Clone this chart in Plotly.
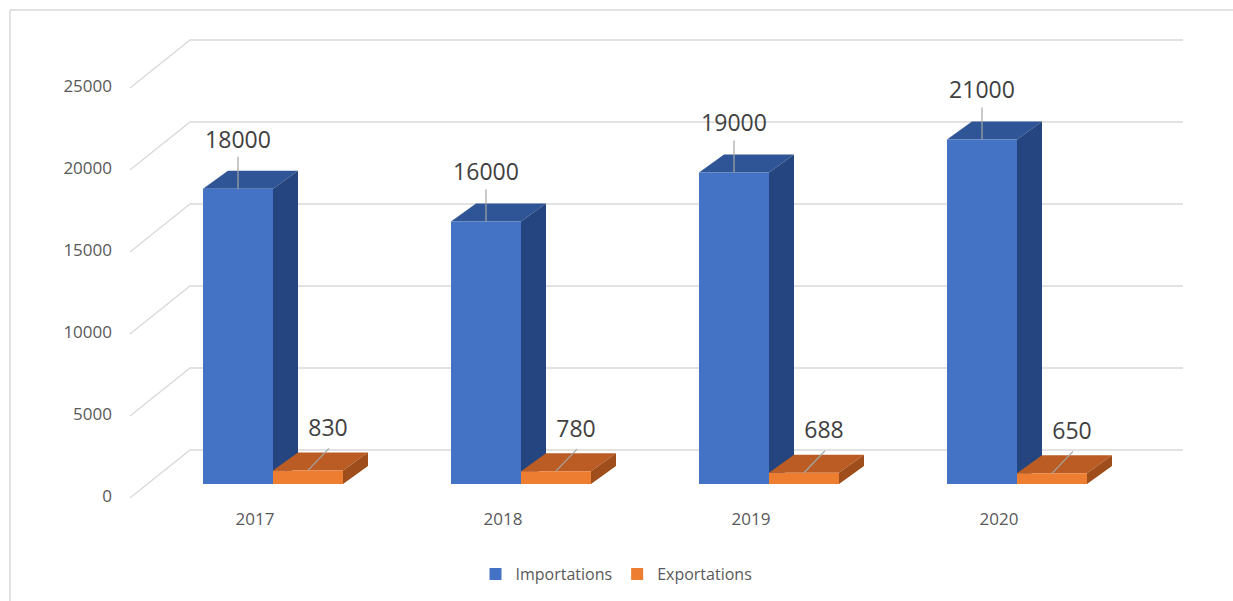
import plotly.graph_objects as go

# ---------------- data ----------------
years = ["2017", "2018", "2019", "2020"]
importations = [18000, 16000, 19000, 21000]
exportations = [830, 780, 688, 650]
series_names = ["Importations", "Exportations"]
y_ticks = [0, 5000, 10000, 15000, 20000, 25000]

# ---------------- geometry (pseudo-3D) ----------------
PX_PER_CAT = 248.0       # pixels per category unit
PX_PER_VAL = 0.0164      # pixels per value unit
X0_PX, Y0_PX = 273.0, 484.0   # pixel position of category 0 / value 0 in the bar front plane
W, H = 1233, 601

BAR_W = 70 / PX_PER_CAT
DEPTH_DX = 25 / PX_PER_CAT
DEPTH_DV = 18 / PX_PER_VAL
WALL_DV = 34 / PX_PER_VAL           # back wall above bar front plane
FLOOR_DV = 14 / PX_PER_VAL          # front floor edge below bar front plane
WALL_X0 = (190 - X0_PX) / PX_PER_CAT
WALL_X1 = (1183 - X0_PX) / PX_PER_CAT
FRONT_X0 = (130 - X0_PX) / PX_PER_CAT
TICK_X = (112 - X0_PX) / PX_PER_CAT
CAT_LABEL_DX = -18 / PX_PER_CAT
CAT_LABEL_V = -(521 - Y0_PX) / PX_PER_VAL

colors = {
    "Importations": {"front": "#4472C4", "top": "#2F5596", "side": "#24457F"},
    "Exportations": {"front": "#ED7D31", "top": "#BA5C24", "side": "#9F4E1B"},
}
label_offsets = {
    "Importations": (0, 47, 0, 32),     # label dx px, dy px; leader end dx, dy px
    "Exportations": (20, 40, 21, 22),
}

GRID = "#D9D9D9"
FONT = "Open Sans"

fig = go.Figure()

# ---------------- walls / gridlines ----------------
gx, gy = [], []
for v in y_ticks:
    gx += [FRONT_X0, WALL_X0, WALL_X1, None]
    gy += [v - FLOOR_DV, v + WALL_DV, v + WALL_DV, None]
fig.add_trace(go.Scatter(x=gx, y=gy, mode="lines", line=dict(color=GRID, width=1.3),
                         hoverinfo="skip", showlegend=False, zorder=0))

# tick labels
fig.add_trace(go.Scatter(x=[TICK_X] * len(y_ticks), y=[v - FLOOR_DV for v in y_ticks],
                         mode="text", text=[str(v) for v in y_ticks], textposition="middle left",
                         textfont=dict(family=FONT, size=17, color="#595959"),
                         hoverinfo="skip", showlegend=False, zorder=5))

# category labels
fig.add_trace(go.Scatter(x=[i + CAT_LABEL_DX for i in range(len(years))],
                         y=[CAT_LABEL_V] * len(years), mode="text", text=years,
                         textposition="middle center",
                         textfont=dict(family=FONT, size=17, color="#595959"),
                         hoverinfo="skip", showlegend=False, zorder=5))

# ---------------- bars ----------------
for s_idx, (name, vals) in enumerate(zip(series_names, [importations, exportations])):
    c = colors[name]
    offset = -BAR_W if s_idx == 0 else 0.0
    xs = list(range(len(years)))
    # front faces
    fig.add_trace(go.Bar(x=xs, y=vals, width=BAR_W, offset=offset, name=name,
                         marker=dict(color=c["front"], line=dict(width=0)),
                         zorder=3, hoverinfo="y"))
    for i, v in enumerate(vals):
        xl = i + offset
        xr = xl + BAR_W
        # top face
        fig.add_trace(go.Scatter(
            x=[xl, xr, xr + DEPTH_DX, xl + DEPTH_DX, xl],
            y=[v, v, v + DEPTH_DV, v + DEPTH_DV, v],
            fill="toself", fillcolor=c["top"], mode="lines", line=dict(width=0, color=c["top"]),
            hoverinfo="skip", showlegend=False, zorder=1 + s_idx))
        # side face
        fig.add_trace(go.Scatter(
            x=[xr, xr, xr + DEPTH_DX, xr + DEPTH_DX, xr],
            y=[0, v, v + DEPTH_DV, DEPTH_DV, 0],
            fill="toself", fillcolor=c["side"], mode="lines", line=dict(width=0, color=c["side"]),
            hoverinfo="skip", showlegend=False, zorder=1 + s_idx))
        # data label + leader line
        ldx, ldy, edx, edy = label_offsets[name]
        cx = xl + BAR_W / 2
        fig.add_trace(go.Scatter(
            x=[cx, cx + edx / PX_PER_CAT], y=[v, v + edy / PX_PER_VAL],
            mode="lines", line=dict(color="#A6A6A6", width=1.2),
            hoverinfo="skip", showlegend=False, zorder=4))
        fig.add_trace(go.Scatter(
            x=[cx + ldx / PX_PER_CAT], y=[v + ldy / PX_PER_VAL], mode="text",
            text=[f"{v}"], textposition="middle center",
            textfont=dict(family=FONT, size=23, color="#404040"),
            hoverinfo="skip", showlegend=False, zorder=5))

fig.update_layout(
    width=W, height=H,
    margin=dict(l=0, r=0, t=0, b=0),
    paper_bgcolor="white", plot_bgcolor="white",
    barmode="overlay",
    hovermode=False,
    xaxis=dict(range=[-X0_PX / PX_PER_CAT, (W - X0_PX) / PX_PER_CAT], visible=False, fixedrange=True),
    yaxis=dict(range=[-(H - Y0_PX) / PX_PER_VAL, Y0_PX / PX_PER_VAL], visible=False, fixedrange=True),
    legend=dict(orientation="h", x=0.5, xanchor="center", y=1 - 574 / H, yanchor="middle",
                font=dict(family=FONT, size=16, color="#595959"), itemwidth=30,
                bgcolor="rgba(0,0,0,0)"),
    shapes=[
        dict(type="line", xref="paper", yref="paper", x0=10 / W, x1=10 / W, y0=0, y1=1 - 10 / H,
             line=dict(color=GRID, width=1.5)),
        dict(type="line", xref="paper", yref="paper", x0=10 / W, x1=1, y0=1 - 10 / H, y1=1 - 10 / H,
             line=dict(color=GRID, width=1.5)),
    ],
)

fig.write_html("out.html", config={"displayModeBar": False},
               post_script="document.body.style.margin='0';document.body.style.overflow='hidden';")
